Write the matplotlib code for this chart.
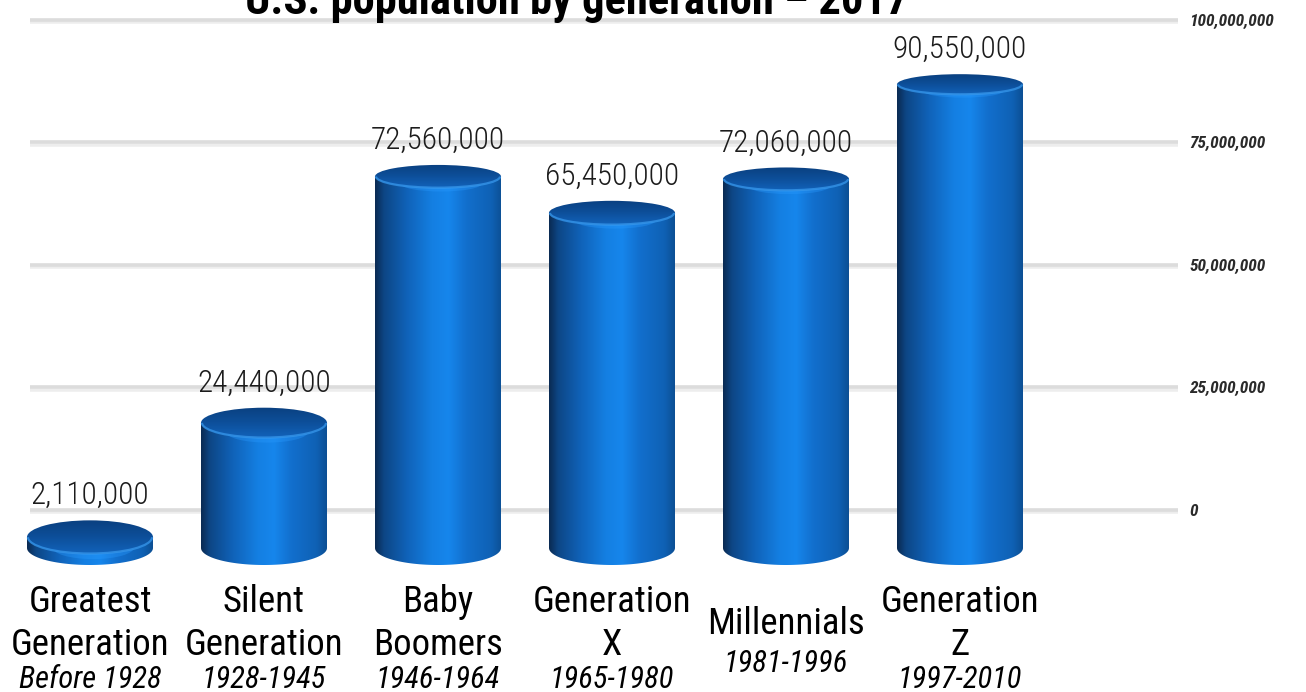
import numpy as np
import matplotlib
matplotlib.use("Agg")
import matplotlib.pyplot as plt
from matplotlib import font_manager as fm
from matplotlib import transforms
from matplotlib.colors import LinearSegmentedColormap
from matplotlib.path import Path
from matplotlib.patches import PathPatch, Ellipse, Arc
import matplotlib.patheffects as pe

# ---- data ----
generations = ["Greatest\nGeneration", "Silent\nGeneration", "Baby\nBoomers",
               "Generation\nX", "Millennials", "Generation\nZ"]
birth_years = ["Before 1928", "1928-1945", "1946-1964", "1965-1980", "1981-1996", "1997-2010"]
population = [2110000, 24440000, 72560000, 65450000, 72060000, 90550000]
grid_ticks = [0, 25000000, 50000000, 75000000, 100000000]
title = "U.S. population by generation \u2013 2017"

# ---- fonts ----
installed = {f.name for f in fm.fontManager.ttflist}


def pick(*names):
    for n in names:
        if n in installed:
            return n
    return "DejaVu Sans"


narrow = pick("Roboto Condensed", "Liberation Sans Narrow", "Open Sans Condensed", "Liberation Sans")
plain = pick("Roboto Condensed", "Liberation Sans", "DejaVu Sans")

W, H = 1306, 692
fig = plt.figure(figsize=(W / 100, H / 100), dpi=100)

# ---- back plane: gridlines and right-hand scale ----
grid_zero_px, grid_px_per_person = 509.5, 4.9e-6
ax_back = fig.add_axes([30 / W, 0, (1178 - 30) / W, 1])
ax_back.set_ylim(-(H - grid_zero_px) / grid_px_per_person, grid_zero_px / grid_px_per_person)
ax_back.set_xlim(0, 1)
ax_back.set_yticks(grid_ticks)
ax_back.set_yticklabels([f"{t:,}" for t in grid_ticks])
ax_back.yaxis.tick_right()
ax_back.tick_params(axis="y", length=0, pad=8, labelsize=12.5, labelcolor="#2a2a2a")
for lab in ax_back.get_yticklabels():
    lab.set_fontstyle("italic")
    lab.set_fontweight("bold")
    lab.set_family(plain)
ax_back.set_xticks([])
ax_back.grid(axis="y", color="#dcdcdc", lw=2.6)
for gl in ax_back.get_ygridlines():
    gl.set_path_effects([pe.SimpleLineShadow(offset=(0, -2), shadow_color="#bbbbbb", alpha=0.25),
                         pe.Normal()])
for s in ax_back.spines.values():
    s.set_visible(False)
ax_back.patch.set_alpha(0)

# ---- front plane: cylinders ----
zero_px, px_per_person = 548.0, 5.12e-6
spacing_px, first_px = 174.0, 90.0
ax = fig.add_axes([0, 0, 1, 1])
ax.set_xlim(-first_px / spacing_px, (W - first_px) / spacing_px)
ax.set_ylim(-(H - zero_px) / px_per_person, zero_px / px_per_person)
ax.set_autoscale_on(False)
ax.axis("off")
ax.patch.set_alpha(0)

body_cmap = LinearSegmentedColormap.from_list("body", [
    (0.00, "#0a2a52"), (0.07, "#0d4685"), (0.25, "#1062b8"), (0.45, "#147fe2"),
    (0.58, "#1686ec"), (0.72, "#126fcd"), (0.92, "#0f61b4"), (1.00, "#0c4f94")])
top_cmap = LinearSegmentedColormap.from_list("top", ["#0a4080", "#0d4f9a", "#1263bb"])

half_w = 63 / spacing_px


def rim_half_h(v):
    # elliptical rim height in pixels, flatter for taller cylinders
    return 17.0 - 0.075 * v / 1e6


grad = np.linspace(0, 1, 256).reshape(1, -1)
vgrad = np.linspace(0, 1, 128).reshape(-1, 1)

for i, v in enumerate(population):
    hb = rim_half_h(0) / px_per_person
    ht = rim_half_h(v) / px_per_person
    t = np.linspace(np.pi, 2 * np.pi, 60)
    verts = [(i - half_w, v), (i - half_w, 0)]
    verts += list(zip(i + half_w * np.cos(t), hb * np.sin(t)))
    verts += [(i + half_w, v), (i - half_w, v)]
    codes = [Path.MOVETO] + [Path.LINETO] * (len(verts) - 2) + [Path.CLOSEPOLY]
    body = PathPatch(Path(verts, codes), facecolor="none", edgecolor="none")
    ax.add_patch(body)
    im = ax.imshow(grad, cmap=body_cmap, aspect="auto", interpolation="bicubic",
                   extent=[i - half_w, i + half_w, -hb, v], zorder=2)
    im.set_clip_path(body)

    # soft light band just under the top rim
    glow = Ellipse((i + 0.05 * half_w, v - 0.6 * ht), 1.3 * half_w, 1.4 * ht,
                   facecolor="#2a9bff", edgecolor="none", alpha=0.35, zorder=2.5)
    ax.add_patch(glow)
    glow.set_clip_path(body)

    top = Ellipse((i, v), 2 * half_w, 2 * ht, facecolor="none", edgecolor="none")
    ax.add_patch(top)
    tim = ax.imshow(vgrad, cmap=top_cmap, aspect="auto", interpolation="bicubic",
                    extent=[i - half_w, i + half_w, v - ht, v + ht], origin="upper", zorder=3)
    tim.set_clip_path(top)
    ax.add_patch(Arc((i, v), 2 * half_w * 0.985, 2 * ht * 0.97, theta1=195, theta2=345,
                     color="#3a9cf0", lw=1.6, alpha=0.7, zorder=3.5))

    ax.annotate(f"{v:,}", xy=(i, v + ht), xytext=(0, 16), textcoords="offset pixels",
                ha="center", va="baseline", fontsize=22.5, family=narrow,
                fontweight="light", color="#1c1c1c")

# ---- category labels ----
lab_tf = transforms.blended_transform_factory(ax.transData, fig.transFigure)
for i, (name, years) in enumerate(zip(generations, birth_years)):
    lines = name.split("\n")
    if len(lines) == 2:
        baselines, year_base = [612, 655], 688
    else:
        baselines, year_base = [634], 672
    for line, b in zip(lines, baselines):
        ax.text(i, 1 - b / H, line, transform=lab_tf, ha="center", va="baseline",
                fontsize=26.5, family=narrow, color="black")
    ax.text(i, 1 - year_base / H, years, transform=lab_tf, ha="center", va="baseline",
            fontsize=22, family=narrow, style="italic", color="black")

fig.text(577 / W, 1 - 14 / H, title, ha="center", va="baseline", fontsize=32,
         fontweight="bold", family=narrow, color="black")

fig.savefig("out.png", dpi=100)
